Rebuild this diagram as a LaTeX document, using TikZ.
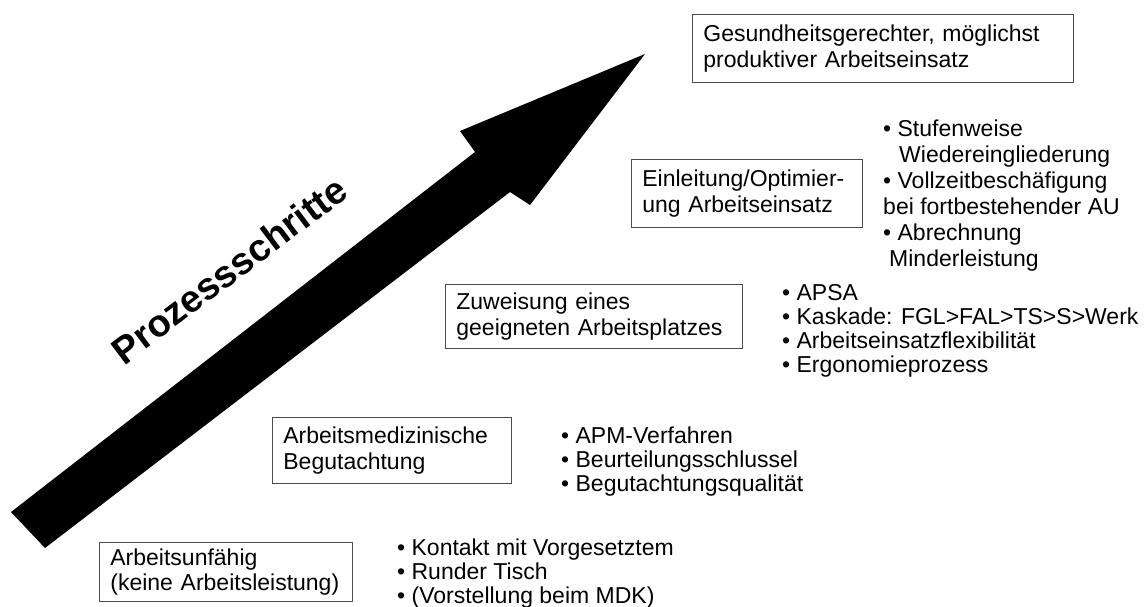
\documentclass[tikz,border=0pt]{standalone}
\usepackage{fontspec}
\setmainfont{Liberation Sans}

\begin{document}
\begin{tikzpicture}[x=1pt, y=-1pt,
  stepbox/.style = {draw=black!70, line width=0.8pt, anchor=north west, align=left,
    inner xsep=11pt, inner ysep=0pt, font=\fontsize{23}{25.5}\selectfont},
  itemlist/.style = {anchor=north west, align=left, inner sep=0pt,
    font=\fontsize{23}{24}\selectfont}]
\useasboundingbox (0,0) rectangle (1148,607);

% grosser Pfeil
\fill (11,512) -- (475,152) -- (460,131) -- (645,54) -- (530,205) -- (510,192) -- (45,548) -- cycle;
\node[rotate=37, font=\fontsize{38}{38}\selectfont\bfseries] (schritte) at (229,270) {Prozessschritte};

% Stufen
\node[stepbox, minimum width=381, minimum height=68, text width=359] (ziel) at (692,14) {Gesundheitsgerechter, möglichst\\produktiver Arbeitseinsatz};
\node[stepbox, minimum width=231, minimum height=68, text width=209] (einsatz) at (631,159) {Einleitung/Optimier-\\ung Arbeitseinsatz};
\node[stepbox, minimum width=297, minimum height=64, text width=275] (platz) at (445,284) {Zuweisung eines\\geeigneten Arbeitsplatzes};
\node[stepbox, minimum width=239, minimum height=66, text width=217] (gutachten) at (272,417) {Arbeitsmedizinische\\Begutachtung};
\node[stepbox, minimum width=253, minimum height=59, text width=231] (au) at (99,542) {Arbeitsunfähig\\(keine Arbeitsleistung)};

% Massnahmen
\node[itemlist, font=\fontsize{23}{26}\selectfont] (einsatzliste) at (883,120) {• Stufenweise\\\hspace*{16pt}Wiedereingliederung\\• Vollzeitbeschäfigung\\bei fortbestehender AU\\• Abrechnung\\\hspace*{6pt}Minderleistung};
\node[itemlist] (platzliste) at (782,284) {• APSA\\• Kaskade: FGL>FAL>TS>S>Werk\\• Arbeitseinsatzflexibilität\\• Ergonomieprozess};
\node[itemlist] (gutachtenliste) at (561,427) {• APM-Verfahren\\• Beurteilungsschlussel\\• Begutachtungsqualität};
\node[itemlist] (auliste) at (397,539) {• Kontakt mit Vorgesetztem\\• Runder Tisch\\• (Vorstellung beim MDK)};
\end{tikzpicture}
\end{document}
